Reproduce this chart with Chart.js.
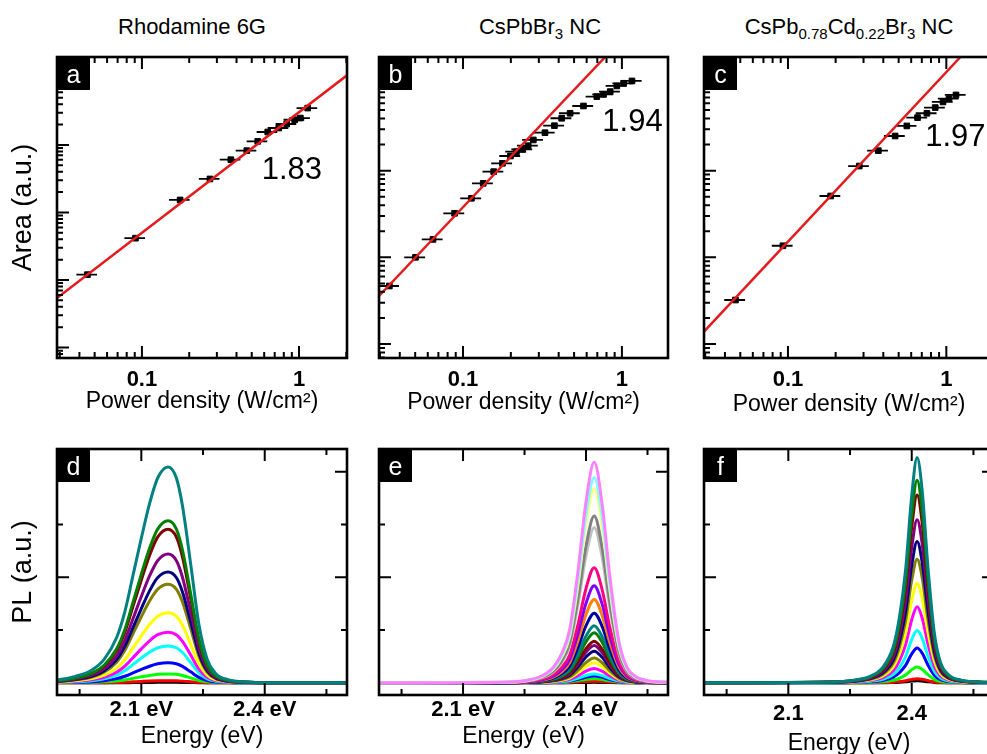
<!DOCTYPE html>
<html lang="en">
<head>
<meta charset="UTF-8" />
<title>Power-dependent PL</title>
<script src="https://cdn.jsdelivr.net/npm/chart.js"></script>
<style>
  body { margin: 0; width: 987px; height: 754px; overflow: hidden; background: #fff; position: relative;
         font-family: "Liberation Sans", Arial, sans-serif; }
  canvas { position: absolute; }
  .ttl { position: absolute; top: 16px; font-size: 22px; line-height: 22px; color: #000; transform: translateX(-50%); white-space: nowrap; }
  .ttl sub { font-size: 15px; vertical-align: -5px; line-height: 0; }
</style>
</head>
<body>
<div class="ttl" style="left:192px">Rhodamine 6G</div>
<div class="ttl" style="left:540px">CsPbBr<sub>3</sub> NC</div>
<div class="ttl" style="left:849px">CsPb<sub>0.78</sub>Cd<sub>0.22</sub>Br<sub>3</sub> NC</div>

<canvas id="pa" width="357" height="380" style="left:0;top:40px"></canvas>
<canvas id="pb" width="320" height="380" style="left:357px;top:40px"></canvas>
<canvas id="pc" width="322" height="380" style="left:682px;top:40px"></canvas>
<canvas id="pd" width="357" height="322" style="left:0;top:432px"></canvas>
<canvas id="pe" width="320" height="322" style="left:357px;top:432px"></canvas>
<canvas id="pf" width="322" height="330" style="left:682px;top:432px"></canvas>

<script>
// --- power dependence (W/cm2) vs integrated PL area (a.u.)
const powerA = [0.045, 0.091, 0.175, 0.271, 0.368, 0.465, 0.546, 0.632, 0.743, 0.835, 0.938, 1.02, 1.135];
const areaA  = [12.0, 41.6, 153, 313, 604, 821, 1127, 1552, 1778, 2037, 2355, 2495, 3508];
const fitXA = [0.0288, 2.02];
const fitYA = [5.4, 10700];

const powerB = [0.0344, 0.0502, 0.0647, 0.0885, 0.113, 0.134, 0.156, 0.177, 0.199, 0.217, 0.237, 0.257,
                0.277, 0.328, 0.376, 0.418, 0.472, 0.573, 0.695, 0.766, 0.844, 0.929, 1.025, 1.157];
const areaB  = [4.67, 10.0, 16.1, 32.2, 48.0, 71.4, 97.4, 121.5, 147.6, 165.6, 176, 194,
                226, 274, 330, 402, 459, 557, 714, 760, 816, 948, 1018, 1083];
const fitXB = [0.0296, 0.785];
const fitYB = [3.58, 2046];

const powerC = [0.0466, 0.093, 0.186, 0.282, 0.372, 0.475, 0.563, 0.658, 0.754, 0.851, 0.953, 1.04, 1.151];
const areaC  = [3.22, 13.6, 51, 113, 170, 251, 328, 409, 459, 534, 620, 677, 747];
const fitXC = [0.0295, 1.228];
const fitYC = [1.39, 2046];

const xErrRel = 0.15;   // horizontal error bars, about +-15 %

const energyD  = [1.895, 1.94, 1.98, 2.01, 2.04, 2.06, 2.08, 2.10, 2.12, 2.14, 2.165, 2.185, 2.20, 2.22, 2.24, 2.26, 2.28, 2.31, 2.36, 2.45, 2.6];
const profileD = [0.012, 0.03, 0.06, 0.11, 0.21, 0.33, 0.50, 0.67, 0.83, 0.95, 1.0, 0.95, 0.82, 0.55, 0.27, 0.11, 0.045, 0.015, 0.004, 0, 0];
const peaksD   = [4.09, 3.07, 2.91, 2.44, 2.10, 1.87, 1.33, 0.96, 0.70, 0.38, 0.17, 0.04, 0.01];
const colorsD  = ['#008080', '#008000', '#800000', '#800080', '#000080', '#808000', '#ffff00', '#ff00ff', '#00ffff', '#0000ff', '#00ff00', '#ff0000', '#000000'];

const energyE  = [1.895, 2.20, 2.25, 2.29, 2.32, 2.34, 2.36, 2.38, 2.40, 2.42, 2.44, 2.457, 2.48, 2.50, 2.52, 2.55, 2.6];
const profileE = [0, 0.003, 0.01, 0.03, 0.07, 0.13, 0.24, 0.50, 0.82, 1.0, 0.80, 0.50, 0.19, 0.07, 0.03, 0.01, 0.003];
const peaksE   = [4.18, 3.89, 3.67, 3.16, 2.94, 2.18, 1.84, 1.58, 1.32, 1.08, 0.95, 0.79, 0.71, 0.60, 0.47, 0.38, 0.27, 0.17, 0.13, 0.08, 0.03, 0.01];
const colorsE  = ['#ff80ff', '#80ffff', '#ffff80', '#808080', '#c0c0c0', '#ff0080', '#8000ff', '#ff8000', '#0000a0', '#008080', '#008000',
                  '#800000', '#800080', '#000080', '#808000', '#ffff00', '#ff00ff', '#00ffff', '#0000ff', '#00ff00', '#ff0000', '#000000'];

const energyF  = [1.895, 2.20, 2.26, 2.30, 2.33, 2.355, 2.37, 2.385, 2.40, 2.413, 2.425, 2.44, 2.455, 2.47, 2.49, 2.52, 2.56, 2.6];
const profileF = [0, 0.004, 0.012, 0.03, 0.07, 0.16, 0.29, 0.50, 0.83, 1.0, 0.86, 0.50, 0.22, 0.09, 0.035, 0.012, 0.004, 0.002];
const peaksF   = [4.27, 3.84, 3.56, 3.09, 2.68, 2.34, 1.88, 1.44, 0.99, 0.66, 0.30, 0.08, 0.04];
const colorsF  = colorsD;

const eTicks = [1.95, 2.1, 2.25, 2.4, 2.55];
const eMajor = [2.1, 2.4];
const plTicks = [1, 2, 3, 4];
const plMajor = [2, 4];

Chart.defaults.font.family = '"Liberation Sans", Arial, sans-serif';
Chart.defaults.color = '#000';

function logTicks(min, max) {
  const out = [];
  for (let e = Math.floor(Math.log10(min)); e <= Math.ceil(Math.log10(max)); e++) {
    for (let m = 1; m < 10; m++) {
      const v = m * Math.pow(10, e);
      if (v > min && v < max) out.push({ v: v, major: m === 1 });
    }
  }
  return out;
}

// box, inward ticks, panel letter, error bars
const frame = {
  id: 'frame',
  beforeDatasetsDraw(chart, args, o) {
    if (!o.err) return;
    const { ctx, chartArea: ca, scales: { x, y } } = chart;
    ctx.save();
    ctx.beginPath(); ctx.rect(ca.left, ca.top, ca.width, ca.height); ctx.clip();
    ctx.strokeStyle = '#000'; ctx.lineWidth = 1.8;
    ctx.beginPath();
    chart.data.datasets[1].data.forEach(p => {
      const py = y.getPixelForValue(p.y);
      ctx.moveTo(x.getPixelForValue(p.x * (1 - o.err)), py);
      ctx.lineTo(x.getPixelForValue(p.x * (1 + o.err)), py);
    });
    ctx.stroke();
    ctx.restore();
  },
  afterDraw(chart, args, o) {
    const { ctx, chartArea: ca, scales: { x, y } } = chart;
    const xt = o.log ? logTicks(x.min, x.max) : eTicks.map(v => ({ v: v, major: eMajor.includes(v) }));
    const yt = o.log ? logTicks(y.min, y.max) : plTicks.map(v => ({ v: v, major: plMajor.includes(v) }));
    ctx.save();
    ctx.strokeStyle = '#000';
    ctx.lineWidth = 2;
    ctx.beginPath();
    xt.forEach(t => {
      const px = x.getPixelForValue(t.v), len = t.major ? 12 : 6;
      ctx.moveTo(px, ca.bottom); ctx.lineTo(px, ca.bottom - len);
      ctx.moveTo(px, ca.top); ctx.lineTo(px, ca.top + len);
    });
    yt.forEach(t => {
      const py = y.getPixelForValue(t.v), len = t.major ? 12 : 6;
      ctx.moveTo(ca.left, py); ctx.lineTo(ca.left + len, py);
      if (!o.log) { ctx.moveTo(ca.right, py); ctx.lineTo(ca.right - len, py); }
    });
    ctx.stroke();
    ctx.lineWidth = 2.6;
    ctx.strokeRect(ca.left, ca.top, ca.width, ca.height);

    ctx.fillStyle = '#000';
    ctx.fillRect(ca.left, ca.top, 33, 33);
    ctx.fillStyle = '#fff';
    ctx.font = '25px "Liberation Sans", Arial, sans-serif';
    ctx.textAlign = 'center';
    ctx.textBaseline = 'alphabetic';
    ctx.fillText(o.letter, ca.left + 16.5, ca.top + 26);

    if (o.note) {
      ctx.fillStyle = '#000';
      ctx.font = '31px "Liberation Sans", Arial, sans-serif';
      ctx.textBaseline = 'middle';
      ctx.fillText(o.note, x.getPixelForValue(o.noteX), y.getPixelForValue(o.noteY));
    }
    ctx.restore();
  }
};

function pts(xs, ys) {
  return xs.map((v, i) => ({ x: v, y: ys[i] }));
}

function powerPanel(id, cfg) {
  new Chart(document.getElementById(id), {
    type: 'scatter',
    data: {
      datasets: [
        { data: pts(cfg.fitX, cfg.fitY), showLine: true, borderColor: '#e41a1c', borderWidth: 2.5, pointRadius: 0 },
        { data: pts(cfg.px, cfg.py), pointStyle: 'rect', pointRadius: 4, pointBorderWidth: 1,
          backgroundColor: '#000', borderColor: '#000' }
      ]
    },
    options: {
      responsive: false,
      animation: false,
      layout: { padding: { top: 17, right: cfg.padR, left: 0, bottom: 0 } },
      plugins: {
        legend: { display: false },
        tooltip: { enabled: false },
        frame: { log: true, err: xErrRel, letter: cfg.letter, note: cfg.note, noteX: cfg.noteX, noteY: cfg.noteY }
      },
      scales: {
        x: {
          type: 'logarithmic', min: cfg.xMin, max: cfg.xMax,
          afterBuildTicks: s => { s.ticks = [0.1, 1].map(v => ({ value: v })); },
          afterFit: s => { s.height = 62; },
          grid: { display: false }, border: { display: false },
          ticks: { callback: v => String(v), autoSkip: false, maxRotation: 0, padding: 1,
                   font: { size: 22, weight: 'bold' } },
          title: { display: true, text: 'Power density (W/cm²)', font: { size: 23 },
                   padding: { top: 0, bottom: cfg.titlePad } }
        },
        y: {
          type: 'logarithmic', min: cfg.yMin, max: cfg.yMax,
          afterFit: s => { s.width = cfg.leftW; },
          grid: { display: false }, border: { display: false },
          ticks: { display: false },
          title: { display: !!cfg.yTitle, text: cfg.yTitle || '', font: { size: 27 }, padding: { top: 7, bottom: 0 } }
        }
      }
    },
    plugins: [frame]
  });
}

function spectraPanel(id, cfg) {
  const sets = cfg.peaks.map((h, i) => ({
    data: pts(cfg.energy, cfg.profile.map(v => v * h)),
    showLine: true, pointRadius: 0, borderWidth: 3,
    borderColor: cfg.colors[i], cubicInterpolationMode: 'monotone'
  }));
  new Chart(document.getElementById(id), {
    type: 'scatter',
    data: { datasets: sets },
    options: {
      responsive: false,
      animation: false,
      layout: { padding: { top: 17, right: cfg.padR, left: 0, bottom: 0 } },
      plugins: {
        legend: { display: false },
        tooltip: { enabled: false },
        frame: { log: false, letter: cfg.letter }
      },
      scales: {
        x: {
          type: 'linear', min: 1.895, max: 2.6, bounds: 'data',
          afterBuildTicks: s => { s.ticks = eMajor.map(v => ({ value: v })); },
          afterFit: s => { s.height = cfg.axisH; },
          grid: { display: false }, border: { display: false },
          ticks: { callback: v => v.toFixed(1) + cfg.unit, autoSkip: false, maxRotation: 0, padding: cfg.tickPad,
                   font: { size: 22, weight: 'bold' } },
          title: { display: true, text: 'Energy (eV)', font: { size: 23 }, padding: { top: 0, bottom: cfg.titlePad } }
        },
        y: {
          type: 'linear', min: -0.23, max: 4.43, bounds: 'data',
          afterFit: s => { s.width = cfg.leftW; },
          grid: { display: false }, border: { display: false },
          ticks: { display: false },
          title: { display: !!cfg.yTitle, text: cfg.yTitle || '', font: { size: 27 }, padding: { top: 7, bottom: 0 } }
        }
      }
    },
    plugins: [frame]
  });
}

powerPanel('pa', { px: powerA, py: areaA, fitX: fitXA, fitY: fitYA, xMin: 0.0288, xMax: 2.02, yMin: 0.72, yMax: 20000,
  leftW: 57, padR: 10, letter: 'a', yTitle: 'Area (a.u.)', note: '1.83', noteX: 0.9, noteY: 420, titlePad: 5 });
powerPanel('pb', { px: powerB, py: areaB, fitX: fitXB, fitY: fitYB, xMin: 0.0296, xMax: 1.95, yMin: 0.69, yMax: 2046,
  leftW: 22, padR: 9, letter: 'b', note: '1.94', noteX: 1.165, noteY: 355, titlePad: 4 });
powerPanel('pc', { px: powerC, py: areaC, fitX: fitXC, fitY: fitYC, xMin: 0.0295, xMax: 2.0, yMin: 0.69, yMax: 2046,
  leftW: 22, padR: 10, letter: 'c', note: '1.97', noteX: 1.14, noteY: 240, titlePad: 2 });

spectraPanel('pd', { energy: energyD, profile: profileD, peaks: peaksD, colors: colorsD, leftW: 57, padR: 10,
  letter: 'd', yTitle: 'PL (a.u.)', unit: ' eV', axisH: 59, tickPad: -6, titlePad: 4 });
spectraPanel('pe', { energy: energyE, profile: profileE, peaks: peaksE, colors: colorsE, leftW: 22, padR: 9,
  letter: 'e', unit: ' eV', axisH: 59, tickPad: -6, titlePad: 4 });
spectraPanel('pf', { energy: energyF, profile: profileF, peaks: peaksF, colors: colorsF, leftW: 22, padR: 10,
  letter: 'f', unit: '', axisH: 67, tickPad: -2, titlePad: 5 });
</script>
</body>
</html>
